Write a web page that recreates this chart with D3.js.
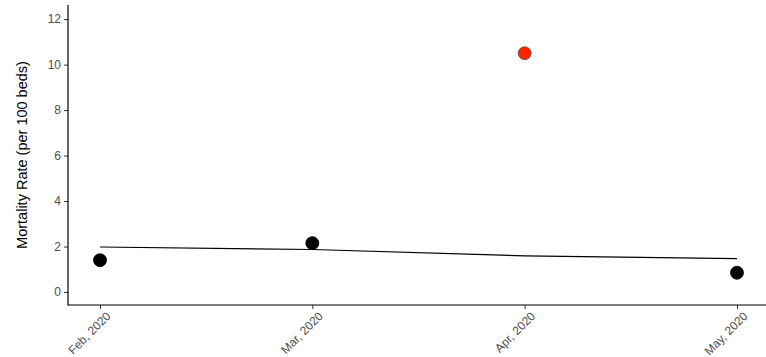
<!DOCTYPE html>
<html>
<head>
<meta charset="utf-8">
<script src="https://cdn.jsdelivr.net/npm/d3@7"></script>
<style>
  body { margin: 0; background: #fff; }
  svg { display: block; font-family: "Liberation Sans", Arial, sans-serif; }
</style>
</head>
<body>
<svg id="chart" width="766" height="357"></svg>
<script>
// Monthly mortality rates
const months = ["Feb, 2020", "Mar, 2020", "Apr, 2020", "May, 2020"];
const rates = [1.4, 2.15, 10.5, 0.85];
const trend = [1.98, 1.87, 1.59, 1.47];
const outlier = [false, false, true, false];
const yTicks = [0, 2, 4, 6, 8, 10, 12];

const svg = d3.select("#chart");
const plotLeft = 68, plotRight = 766, plotTop = 5, plotBottom = 305;

const x = d3.scaleLinear().domain([0, 3]).range([100, 737]);
const y = d3.scaleLinear().domain([-0.57, 12.62]).range([plotBottom, plotTop]);

// Axes
const yAxis = d3.axisLeft(y).tickValues(yTicks).tickSize(4).tickPadding(3);
const gy = svg.append("g").attr("transform", `translate(${plotLeft},0)`).call(yAxis);
gy.select(".domain").remove();
gy.selectAll(".tick line").attr("stroke", "#333");
gy.selectAll(".tick text").attr("fill", "#4d4d4d")
  .style("font-size", "12px").style("font-family", "Liberation Sans, Arial, sans-serif");

const xAxis = d3.axisBottom(x).tickValues(d3.range(months.length))
  .tickFormat(i => months[i]).tickSize(4).tickPadding(3);
const gx = svg.append("g").attr("transform", `translate(0,${plotBottom})`).call(xAxis);
gx.select(".domain").remove();
gx.selectAll(".tick line").attr("stroke", "#333");
gx.selectAll(".tick text")
  .attr("fill", "#4d4d4d")
  .style("font-size", "12px").style("font-family", "Liberation Sans, Arial, sans-serif")
  .attr("text-anchor", "end")
  .attr("dy", "0.35em")
  .attr("transform", "translate(3,4) rotate(-45)");

// Axis lines
svg.append("line").attr("x1", plotLeft).attr("x2", plotLeft).attr("y1", plotTop).attr("y2", plotBottom + 0.5)
  .attr("stroke", "#000").attr("stroke-width", 1.2);
svg.append("line").attr("x1", plotLeft).attr("x2", plotRight).attr("y1", plotBottom).attr("y2", plotBottom)
  .attr("stroke", "#000").attr("stroke-width", 1.2);

// Y title
svg.append("text")
  .attr("transform", `translate(27,${(plotTop + plotBottom) / 2}) rotate(-90)`)
  .attr("text-anchor", "middle")
  .style("font-size", "14.5px")
  .attr("fill", "#000")
  .text("Mortality Rate (per 100 beds)");

// Trend line
svg.append("path")
  .datum(trend)
  .attr("d", d3.line().x((d, i) => x(i)).y(d => y(d)))
  .attr("fill", "none").attr("stroke", "#000").attr("stroke-width", 1.2);

// Points
svg.selectAll("circle.pt")
  .data(rates)
  .join("circle")
  .attr("class", "pt")
  .attr("cx", (d, i) => x(i))
  .attr("cy", d => y(d))
  .attr("r", 6.5)
  .attr("fill", (d, i) => outlier[i] ? "#ff2200" : "#000")
  .attr("stroke", (d, i) => outlier[i] ? "#555" : "#000")
  .attr("stroke-width", 0.8);
</script>
</body>
</html>
